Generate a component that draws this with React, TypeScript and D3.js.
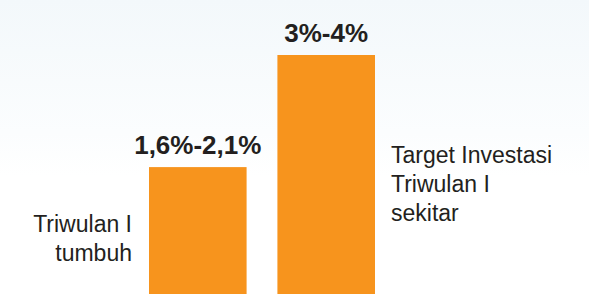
import * as d3 from "d3";

const categories = ["Triwulan I tumbuh", "Target Investasi Triwulan I sekitar"];
const values = [2.1, 4];
const valueLabels = ["1,6%-2,1%", "3%-4%"];
const leftText = ["Triwulan I", "tumbuh"];
const rightText = ["Target Investasi", "Triwulan I", "sekitar"];

const W = 589;
const H = 294;
const font = "'Liberation Sans', Arial, Helvetica, sans-serif";

export default function App() {
  const x = d3.scaleBand().domain(categories).range([149, 375]).paddingInner(0.24);
  // baseline sits just below the visible area, bars run off the bottom edge
  const y = d3.scaleLinear().domain([0, 4]).range([291, 55]);

  return (
    <svg
      width={W}
      height={H}
      style={{ position: "absolute", left: 0, top: 0 }}
      fontFamily={font}
    >
      <defs>
        <linearGradient id="bg" x1="0" y1="0" x2="0" y2="1">
          <stop offset="0" stopColor="#f3f8fb" />
          <stop offset="0.45" stopColor="#fbfdfe" />
          <stop offset="0.6" stopColor="#ffffff" />
        </linearGradient>
      </defs>
      <rect width={W} height={H} fill="url(#bg)" />

      {categories.map((c, i) => (
        <g key={c}>
          <rect
            x={x(c)}
            y={y(values[i])}
            width={x.bandwidth()}
            height={H - y(values[i])}
            fill="#f7941d"
          />
          <text
            x={(x(c) as number) + x.bandwidth() / 2}
            y={y(values[i]) - 13}
            textAnchor="middle"
            fontSize={26}
            fontWeight="bold"
            fill="#231f20"
          >
            {valueLabels[i]}
          </text>
        </g>
      ))}

      <text textAnchor="end" fontSize={23} fill="#231f20">
        {leftText.map((t, i) => (
          <tspan key={t} x={132} y={232 + i * 29}>
            {t}
          </tspan>
        ))}
      </text>

      <text textAnchor="start" fontSize={23} fill="#231f20">
        {rightText.map((t, i) => (
          <tspan key={t} x={391} y={163 + i * 29}>
            {t}
          </tspan>
        ))}
      </text>
    </svg>
  );
}
